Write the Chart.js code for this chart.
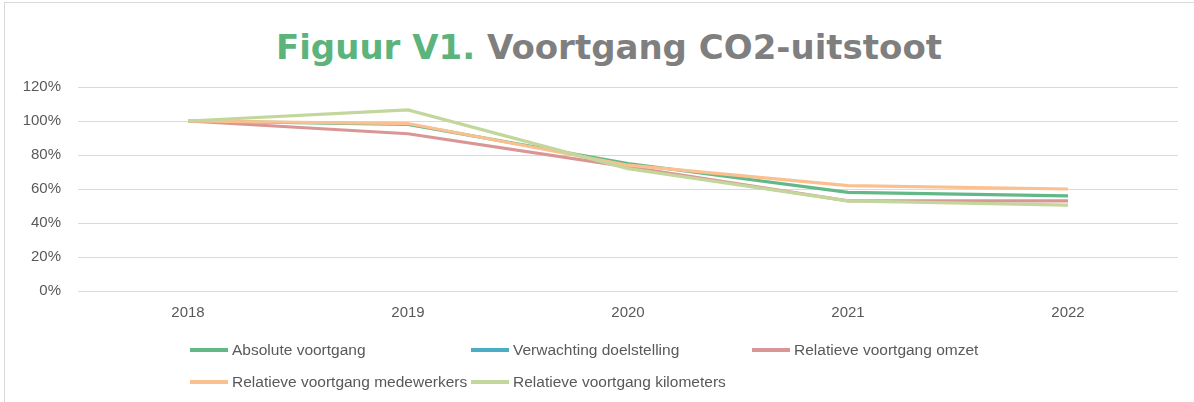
<!DOCTYPE html>
<html>
<head>
<meta charset="utf-8">
<script src="https://cdn.jsdelivr.net/npm/chart.js@4.4.1/dist/chart.umd.min.js"></script>
<style>
body{margin:0;background:#fff}
#wrap{position:relative;width:1194px;height:402px;overflow:hidden}
#frame{position:absolute;left:4px;top:2px;width:1200px;height:410px;border-left:1px solid #d9d9d9;border-top:1px solid #d9d9d9}
#title{position:absolute;left:0;width:1218px;top:27px;text-align:center;font:bold 34px 'DejaVu Sans';color:#7f7f7f;white-space:nowrap}
#title .fig{color:#5cb37c}
canvas{position:absolute;left:0;top:0}
#legend{position:absolute;left:190px;top:334px;width:850px;display:flex;flex-wrap:wrap;font:15.5px 'Liberation Sans',sans-serif;color:#595959}
.item{width:281px;height:32px;display:flex;align-items:center;white-space:nowrap}
.swatch{width:38px;height:3.5px;margin-right:4px;flex:none}
</style>
</head>
<body>
<div id="wrap">
 <div id="frame"></div>
 <div id="title"><span class="fig">Figuur V1.</span> Voortgang CO2-uitstoot</div>
 <canvas id="chart" width="1194" height="402"></canvas>
 <div id="legend"></div>
</div>
<script>
// jaren en waarden (in %)
const years=['2018','2019','2020','2021','2022'];
const absoluut=[100,98,75,58,56];
const verwachting=[null,null,null,null,null];
const omzet=[100,92.5,73,53,53];
const medewerkers=[100,98.5,74,62,60];
const kilometers=[100,106.5,72,53,50.5];
const yTicks=[0,20,40,60,80,100,120];

const names=['Absolute voortgang','Verwachting doelstelling','Relatieve voortgang omzet','Relatieve voortgang medewerkers','Relatieve voortgang kilometers'];
const colors=['#63b887','#4bacc6','#d99694','#fac090','#c3d69b'];
const series=[absoluut,verwachting,omzet,medewerkers,kilometers];

const htmlLegend={
 id:'htmlLegend',
 afterUpdate(chart){
  const box=document.getElementById('legend');
  box.innerHTML='';
  chart.data.datasets.forEach(ds=>{
   const it=document.createElement('div');it.className='item';
   const sw=document.createElement('span');sw.className='swatch';sw.style.background=ds.borderColor;
   const tx=document.createElement('span');tx.textContent=ds.label;
   it.appendChild(sw);it.appendChild(tx);box.appendChild(it);
  });
 }
};

new Chart(document.getElementById('chart'),{
 type:'line',
 data:{labels:years,datasets:series.map((d,i)=>({
  label:names[i],data:d,borderColor:colors[i],backgroundColor:colors[i],
  borderWidth:3.2,pointRadius:0,tension:0,order:5-i
 }))},
 options:{
  responsive:false,animation:false,
  layout:{padding:{top:87,right:16,bottom:71,left:0}},
  plugins:{legend:{display:false},tooltip:{enabled:false}},
  scales:{
   x:{offset:true,grid:{display:false},border:{display:false},
    ticks:{padding:5,color:'#595959',font:{family:'Liberation Sans',size:15}},
    afterFit(s){s.height=40}},
   y:{min:0,max:120,
    afterBuildTicks(s){s.ticks=yTicks.map(v=>({value:v}))},
    grid:{color:'#d9d9d9',drawTicks:false},border:{display:false},
    ticks:{padding:17,color:'#595959',font:{family:'Liberation Sans',size:15},callback:v=>v+'%'},
    afterFit(s){s.width=78}}
  }
 },
 plugins:[htmlLegend]
});
</script>
</body>
</html>
